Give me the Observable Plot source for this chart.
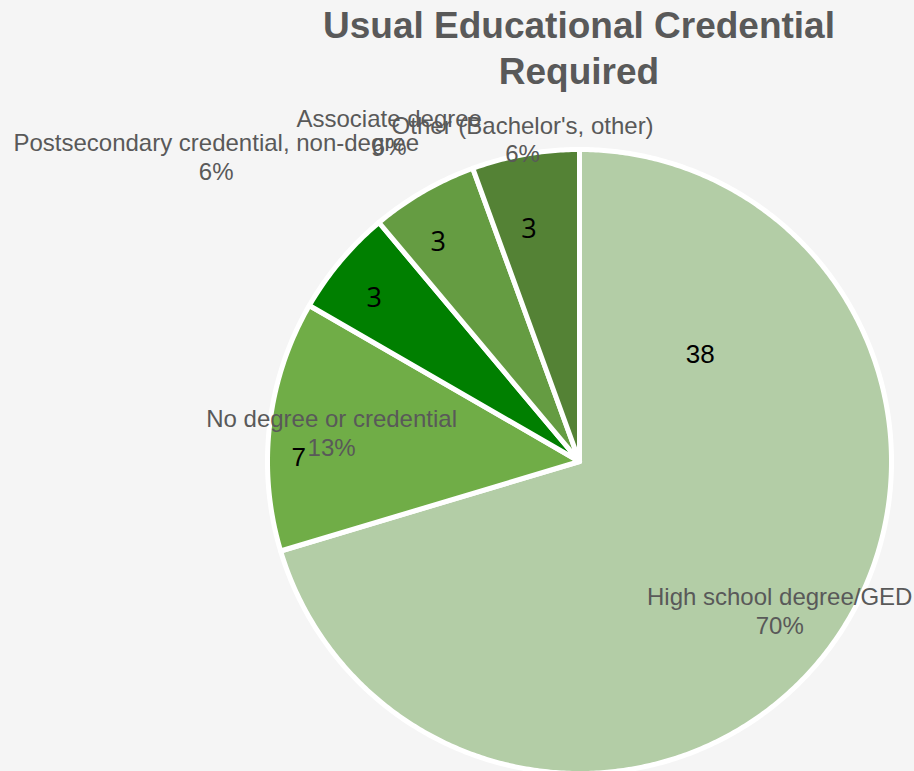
<!DOCTYPE html>
<html>
<head>
<meta charset="utf-8">
<script src="https://cdn.jsdelivr.net/npm/d3@7"></script>
<script src="https://cdn.jsdelivr.net/npm/@observablehq/plot@0.6"></script>
<style>
  html, body { margin: 0; padding: 0; background: #f5f5f5; }
  #wrap { position: relative; width: 914px; height: 771px; background: #f5f5f5; overflow: hidden; }
  #title { position: absolute; left: 279px; width: 600px; top: 0; text-align: center;
    font-family: "Liberation Sans", Arial, sans-serif; font-weight: bold; font-size: 37px;
    line-height: 46px; color: #595959; z-index: 2; padding-top: 3px; }
  #chart { position: absolute; left: 0; top: 0; }
</style>
</head>
<body>
<div id="wrap">
  <div id="chart"></div>
  <div id="title">Usual Educational Credential<br>Required</div>
</div>
<script>
// ---- data ----
const categories = ["High school degree/GED", "No degree or credential", "Postsecondary credential, non-degree", "Associate degree", "Other (Bachelor's, other)"];
const counts = [38, 7, 3, 3, 3];
const percentLabels = ["70%", "13%", "6%", "6%", "6%"];
const sliceColors = ["#b3cda6", "#70ad47", "#007f00", "#659c42", "#548235"];

// ---- label layout (polar, relative to the pie) ----
const nameLabelRadius = [0.80, 0.80, 1.52, 1.22, 1.05];
const valueLabelAngleDeg = [48.4, 270.8, 308.4, 327.2, 347.7];
const valueLabelRadius = [0.517, 0.90, 0.84, 0.836, 0.76];

const arcs = d3.pie().sort(null).value(d => d)(counts);

// slice outlines in unit-circle coordinates (angle clockwise from 12 o'clock)
const slicePts = [];
arcs.forEach((a, i) => {
  slicePts.push({cat: categories[i], x: 0, y: 0});
  const n = Math.max(4, Math.ceil((a.endAngle - a.startAngle) / (Math.PI / 360)));
  for (let k = 0; k <= n; k++) {
    const t = a.startAngle + (a.endAngle - a.startAngle) * k / n;
    slicePts.push({cat: categories[i], x: Math.sin(t), y: Math.cos(t)});
  }
});

const nameLabels = arcs.map((a, i) => {
  const t = (a.startAngle + a.endAngle) / 2;
  const r = nameLabelRadius[i];
  return {x: r * Math.sin(t), y: r * Math.cos(t), text: categories[i] + "\n" + percentLabels[i]};
});
const valueLabels = arcs.map((a, i) => {
  const t = valueLabelAngleDeg[i] * Math.PI / 180;
  const r = valueLabelRadius[i];
  return {x: r * Math.sin(t), y: r * Math.cos(t), text: String(counts[i]), big: counts[i] > 3};
});

const chart = Plot.plot({
  width: 914,
  height: 771,
  margin: 0,
  style: {background: "#f5f5f5", overflow: "visible"},
  x: {domain: [-1, 1], range: [267, 891], axis: null},
  y: {domain: [-1, 1], range: [773, 149], axis: null},
  color: {domain: categories, range: sliceColors},
  marks: [
    Plot.line(slicePts, {x: "x", y: "y", z: "cat", fill: "cat", stroke: "white", strokeWidth: 5,
      strokeLinejoin: "round", curve: "linear-closed"}),
    Plot.text(valueLabels.filter(d => d.big), {x: "x", y: "y", text: "text", fill: "black",
      fontSize: 26, fontFamily: "Liberation Sans, Arial, sans-serif", textAnchor: "middle"}),
    Plot.text(valueLabels.filter(d => !d.big), {x: "x", y: "y", text: "text", fill: "black",
      fontSize: 27, fontFamily: "Open Sans, sans-serif", textAnchor: "middle"}),
    Plot.text(nameLabels, {x: "x", y: "y", text: "text", fill: "#595959", fontSize: 24,
      lineHeight: 1.2, fontFamily: "Liberation Sans, Arial, sans-serif", textAnchor: "middle",
      lineAnchor: "middle"})
  ]
});
document.getElementById("chart").appendChild(chart);
</script>
</body>
</html>
